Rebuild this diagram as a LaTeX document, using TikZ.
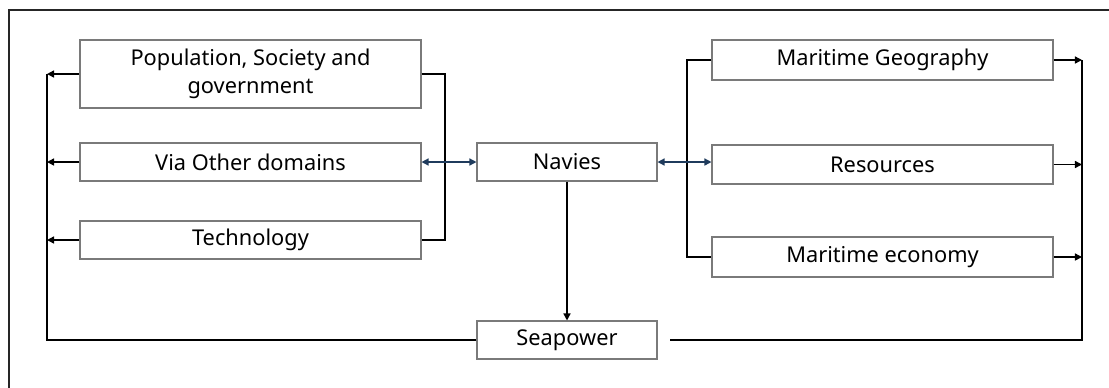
\documentclass[tikz,border=0pt]{standalone}
\usepackage{fontspec}
\setmainfont{Noto Sans}
\usetikzlibrary{arrows.meta}
\definecolor{boxline}{HTML}{7A7A7A}
\definecolor{navy}{HTML}{1F3B5C}
\begin{document}
\begin{tikzpicture}[x=0.02cm,y=-0.02cm,
  box/.style={draw=boxline,line width=0.6pt,fill=white,minimum height=38*0.02cm,
    inner sep=0pt,align=center,font=\fontsize{12.4}{16.2}\selectfont},
  wide/.style={box,minimum width=341*0.02cm},
  narrow/.style={box,minimum width=180*0.02cm},
  link/.style={line width=0.8pt,black},
  tip/.style={-{Triangle[length=4pt,width=4pt]}},
  both/.style={line width=0.8pt,navy,{Triangle[length=4pt,width=4pt]}-{Triangle[length=4pt,width=4pt]}}]
\useasboundingbox (0,0) rectangle (1109,387);
% outer frame
\begin{scope}
\clip (0,0) rectangle (1109,387);
\draw[line width=0.7pt,black!85] (9,10) rectangle (1130,410);
\end{scope}

% left column
\node[wide,minimum height=68*0.02cm] (pop) at (250.5,74) {Population, Society and\\government};
\node[wide] (via) at (250.5,162) {Via Other domains};
\node[wide] (tech) at (250.5,240) {Technology};
% centre column
\node[narrow] (nav) at (567,162) {Navies};
\node[narrow] (sea) at (567,340) {Seapower};
% right column
\node[wide,minimum height=40*0.02cm] (geo) at (882.5,60) {Maritime Geography};
\node[wide,minimum height=39*0.02cm] (res) at (882.5,164.5) {Resources};
\node[wide,minimum height=40*0.02cm] (eco) at (882.5,257) {Maritime economy};

% collecting lines
\coordinate (ltrunk) at (47,74);
\coordinate (lbrk) at (445,74);
\coordinate (rbrk) at (687,60);
\coordinate (rtrunk) at (1082,60);
\coordinate (rend) at (670,340);

\draw[link] (sea.west) -| (ltrunk);
\draw[link,tip] (pop.west) -- (ltrunk);
\draw[link,tip] (via.west) -- (via.west -| ltrunk);
\draw[link,tip] (tech.west) -- (tech.west -| ltrunk);

\draw[link] (pop.east) -| (lbrk) |- (tech.east);
\draw[link] (geo.west) -| (rbrk) |- (eco.west);

\draw[link,tip] (geo.east) -- (rtrunk);
\draw[link,tip] (res.east) -- (res.east -| rtrunk);
\draw[link,tip] (eco.east) -- (eco.east -| rtrunk);
\draw[link] (rtrunk) |- (rend);

\draw[both] (via.east) -- (nav.west);
\draw[both] (nav.east) -- (nav.east -| res.west);
\draw[link,tip] (nav.south) -- (sea.north);
\end{tikzpicture}
\end{document}
